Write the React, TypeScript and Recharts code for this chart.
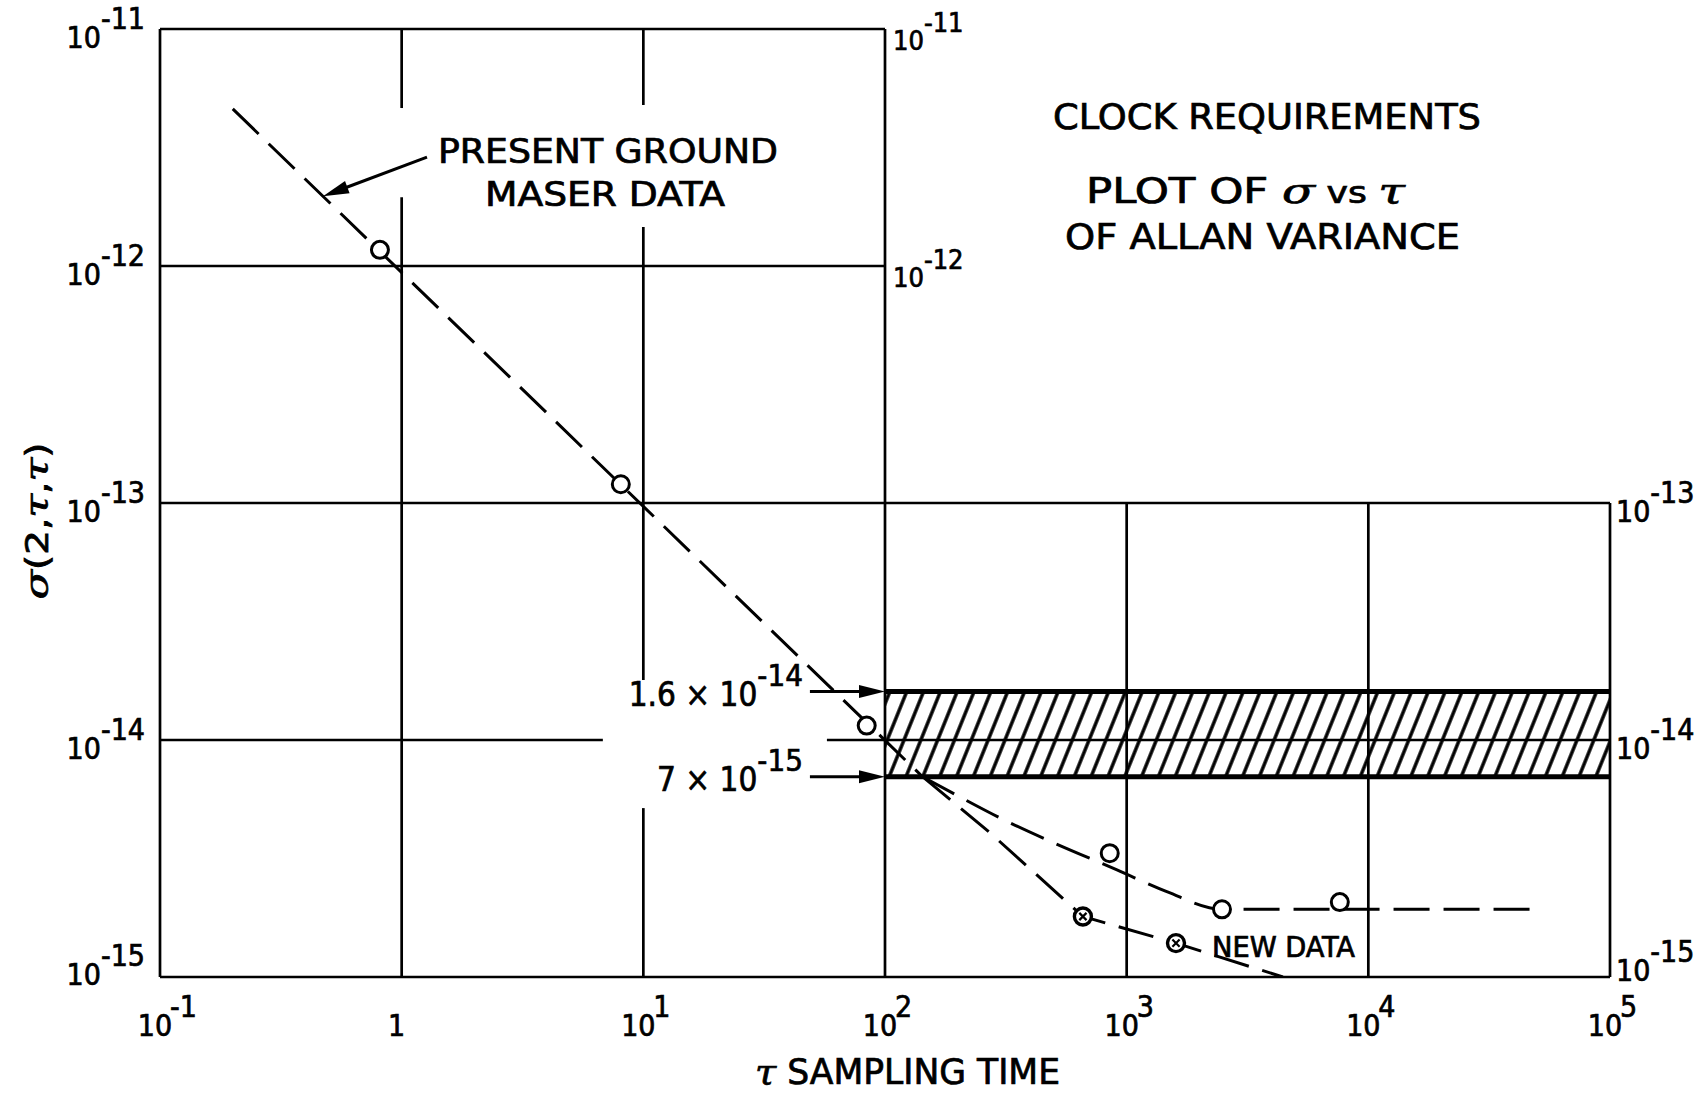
import React from "react";
import {
  ComposedChart,
  XAxis,
  YAxis,
  Line,
  Scatter,
  ReferenceLine,
  ReferenceArea,
  ReferenceDot,
} from "recharts";

const FONT = "'DejaVu Sans Condensed', 'Liberation Sans Narrow', 'Liberation Sans', sans-serif";
const GREEK = "'DejaVu Serif', serif";

// log-log axes: sampling time tau vs sigma(2, tau, tau)
const tauTicks = [0.1, 1, 10, 100, 1e3, 1e4, 1e5];
const sigmaTicks = [1e-15, 1e-14, 1e-13, 1e-12, 1e-11];
const sigmaTicksRight = [1e-15, 1e-14, 1e-13];
const sigmaTicksMid = [1e-12, 1e-11]; // labelled along the tau = 100 rule

// present ground maser trend
const maserTau = [0.2, 143];
const maserSigma = [4.6e-12, 7e-15];

// trend through the open circles
const clockTau = [143, 204, 299, 468, 912, 1466, 2480, 52700];
const clockSigma = [7e-15, 5.75e-15, 4.69e-15, 3.79e-15, 2.83e-15, 2.29e-15, 1.93e-15, 1.93e-15];

// trend through the new data
const newTau = [143, 272, 659, 1600, 4430];
const newSigma = [7e-15, 4.06e-15, 1.8e-15, 1.39e-15, 1e-15];

// measured points
const circleTau = [0.813, 8.07, 84, 851, 2480, 7620];
const circleSigma = [1.17e-12, 1.2e-13, 1.15e-14, 3.33e-15, 1.93e-15, 2.07e-15];
const crossTau = [659, 1600];
const crossSigma = [1.8e-15, 1.39e-15];

// requirement band
const bandTau = [100, 1e5];
const bandSigma = [7e-15, 1.6e-14];
const bandLabels = [
  { text: "7 × 10", exp: "-15" },
  { text: "1.6 × 10", exp: "-14" },
];
const bandArrowTau = 48.9;

// "present ground maser data" pointer: tail, tip
const pointerTau = [1.273, 0.4725];
const pointerSigma = [2.88e-12, 1.97e-12];

// grid rules: [sigma, tauFrom, tauTo] and [tau, sigmaFrom, sigmaTo]
const hRules: [number, number, number][] = [
  [1e-11, 0.1, 100],
  [1e-12, 0.1, 100],
  [1e-13, 0.1, 1e5],
  [1e-14, 0.1, 6.8],
  [1e-14, 57.5, 1e5],
  [1e-15, 0.1, 1e5],
];
const vRules: [number, number, number][] = [
  [0.1, 1e-15, 1e-11],
  [1, 1e-15, 1.95e-12],
  [1, 4.64e-12, 1e-11],
  [10, 1e-15, 5.16e-15],
  [10, 1.79e-14, 1.46e-12],
  [10, 4.78e-12, 1e-11],
  [100, 1e-15, 1e-11],
  [1e3, 1e-15, 1e-13],
  [1e4, 1e-15, 1e-13],
  [1e5, 1e-15, 1e-13],
];

const zip = (xs: number[], ys: number[]) => xs.map((tau, i) => ({ tau, sigma: ys[i] }));

const powerParts = (v: number) => {
  const e = Math.round(Math.log10(v));
  if (e === 0) return { base: "1", exp: "" };
  return { base: "10", exp: String(e) };
};

// heavier lettering
const ink = { fill: "#000", stroke: "#000", strokeWidth: 0.7 };

const BottomTick = (props: any) => {
  const { x, y, payload } = props;
  const { base, exp } = powerParts(payload.value);
  return (
    <g fontFamily={FONT} fontSize={30} {...ink}>
      <text x={x - 5} y={y + 59} textAnchor="middle">{base}</text>
      {exp && <text x={x + 10} y={y + 40}>{exp}</text>}
    </g>
  );
};

const LeftTick = (props: any) => {
  const { x, y, payload } = props;
  const { base, exp } = powerParts(payload.value);
  const by = payload.value === sigmaTicks[0] ? y + 8 : y + 19;
  return (
    <text x={x - 15} y={by} textAnchor="end" fontFamily={FONT} fontSize={30} {...ink}>
      <tspan>{base}</tspan>
      <tspan dy={-19}>{exp}</tspan>
    </text>
  );
};

const RightTick = (props: any) => {
  const { x, y, payload } = props;
  const { base, exp } = powerParts(payload.value);
  const by = payload.value === sigmaTicks[0] ? y + 4 : y + 19;
  return (
    <text x={x + 6} y={by} fontFamily={FONT} fontSize={30} {...ink}>
      <tspan>{base}</tspan>
      <tspan dy={-19}>{exp}</tspan>
    </text>
  );
};

const midLabel = (value: number) => (p: any) => {
  const { base, exp } = powerParts(value);
  return (
    <text x={p.cx + 8} y={p.cy + 21} fontFamily={FONT} fontSize={27} {...ink}>
      <tspan>{base}</tspan>
      <tspan dy={-18}>{exp}</tspan>
    </text>
  );
};

// arrow along a reference segment, optional power-of-ten label at its tail
const arrowShape = (label?: { text: string; exp: string }) => (p: any) => {
  const { x1, y1, x2, y2 } = p;
  const dx = x2 - x1;
  const dy = y2 - y1;
  const len = Math.hypot(dx, dy) || 1;
  const ux = dx / len;
  const uy = dy / len;
  const hl = 26;
  const hw = 6.5;
  const bx = x2 - ux * hl;
  const by = y2 - uy * hl;
  return (
    <g>
      <line x1={x1} y1={y1} x2={bx + ux * 2} y2={by + uy * 2} stroke="#000" strokeWidth={3} />
      <polygon
        points={`${x2},${y2} ${bx - uy * hw},${by + ux * hw} ${bx + uy * hw},${by - ux * hw}`}
        fill="#000"
      />
      {label && (
        <text x={x1 - 7} y={y1 + 14} textAnchor="end" fontFamily={FONT} fontSize={33} {...ink}>
          <tspan>{label.text}</tspan>
          <tspan dy={-20} fontSize={31}>{label.exp}</tspan>
        </text>
      )}
    </g>
  );
};

const OpenCircle = (p: any) => (
  <circle cx={p.cx} cy={p.cy} r={8.5} fill="#fff" stroke="#000" strokeWidth={3} />
);

const CrossCircle = (p: any) => {
  const { cx, cy } = p;
  const d = 3.6;
  return (
    <g>
      <circle cx={cx} cy={cy} r={8.5} fill="#fff" stroke="#000" strokeWidth={3.4} />
      <path
        d={`M${cx - d},${cy - d}L${cx + d},${cy + d}M${cx - d},${cy + d}L${cx + d},${cy - d}`}
        stroke="#000"
        strokeWidth={2.2}
      />
    </g>
  );
};

const dashed = {
  type: "linear" as const,
  stroke: "#000",
  strokeWidth: 3,
  strokeDasharray: "36 14",
  dot: false,
  activeDot: false,
  isAnimationActive: false,
};

export default function App() {
  const rule = { stroke: "#000", strokeWidth: 2.7, ifOverflow: "visible" as const };

  return (
    <div style={{ position: "absolute", left: 0, top: 0, width: 1708, height: 1095, background: "#fff" }}>
      <svg width={0} height={0} style={{ position: "absolute" }}>
        <defs>
          <pattern id="bandHatch" patternUnits="userSpaceOnUse" width={15.6} height={30} patternTransform="rotate(22)">
            <line x1={7.8} y1={-5} x2={7.8} y2={35} stroke="#000" strokeWidth={3.4} />
          </pattern>
        </defs>
      </svg>

      <ComposedChart width={1708} height={1095} margin={{ top: 29, right: 0, bottom: 0, left: 0 }}>
        <XAxis
          dataKey="tau"
          type="number"
          scale="log"
          domain={[0.1, 1e5]}
          ticks={tauTicks}
          interval={0}
          allowDataOverflow
          axisLine={false}
          tickLine={false}
          tickSize={0}
          tickMargin={0}
          height={118}
          tick={BottomTick}
        />
        <YAxis
          dataKey="sigma"
          type="number"
          scale="log"
          domain={[1e-15, 1e-11]}
          ticks={sigmaTicks}
          interval={0}
          allowDataOverflow
          axisLine={false}
          tickLine={false}
          tickSize={0}
          tickMargin={0}
          width={160}
          tick={LeftTick}
        />
        <YAxis
          yAxisId="right"
          orientation="right"
          type="number"
          scale="log"
          domain={[1e-15, 1e-11]}
          ticks={sigmaTicksRight}
          interval={0}
          allowDataOverflow
          axisLine={false}
          tickLine={false}
          tickSize={0}
          tickMargin={0}
          width={98}
          tick={RightTick}
        />

        <ReferenceArea
          x1={bandTau[0]}
          x2={bandTau[1]}
          y1={bandSigma[0]}
          y2={bandSigma[1]}
          fill="url(#bandHatch)"
          fillOpacity={1}
          stroke="none"
          ifOverflow="visible"
        />

        {hRules.map(([s, a, b], i) => (
          <ReferenceLine key={`h${i}`} segment={[{ x: a, y: s }, { x: b, y: s }]} {...rule} />
        ))}
        {vRules.map(([t, a, b], i) => (
          <ReferenceLine key={`v${i}`} segment={[{ x: t, y: a }, { x: t, y: b }]} {...rule} />
        ))}
        {bandSigma.map((s, i) => (
          <ReferenceLine
            key={`b${i}`}
            segment={[{ x: bandTau[0], y: s }, { x: bandTau[1], y: s }]}
            stroke="#000"
            strokeWidth={5}
            ifOverflow="visible"
          />
        ))}

        {sigmaTicksMid.map((s) => (
          <ReferenceDot key={`m${s}`} x={100} y={s} r={0} ifOverflow="visible" shape={midLabel(s)} />
        ))}

        {bandSigma.map((s, i) => (
          <ReferenceLine
            key={`a${i}`}
            segment={[{ x: bandArrowTau, y: s }, { x: bandTau[0], y: s }]}
            ifOverflow="visible"
            shape={arrowShape(bandLabels[i])}
          />
        ))}
        <ReferenceLine
          segment={[
            { x: pointerTau[0], y: pointerSigma[0] },
            { x: pointerTau[1], y: pointerSigma[1] },
          ]}
          ifOverflow="visible"
          shape={arrowShape()}
        />

        <Line data={zip(maserTau, maserSigma)} dataKey="sigma" {...dashed} />
        <Line data={zip(clockTau, clockSigma)} dataKey="sigma" {...dashed} type="monotone" />
        <Line data={zip(newTau, newSigma)} dataKey="sigma" {...dashed} />

        <Scatter data={zip(circleTau, circleSigma)} dataKey="sigma" shape={OpenCircle} isAnimationActive={false} />
        <Scatter data={zip(crossTau, crossSigma)} dataKey="sigma" shape={CrossCircle} isAnimationActive={false} />
      </ComposedChart>

      <svg
        width={1708}
        height={1095}
        style={{ position: "absolute", left: 0, top: 0, pointerEvents: "none" }}
      >
        <g fontFamily={FONT} {...ink}>
          <text x={1053} y={129} fontSize={36} textLength={428} lengthAdjust="spacingAndGlyphs">
            CLOCK REQUIREMENTS
          </text>
          <text x={1086} y={203} fontSize={36} textLength={319} lengthAdjust="spacingAndGlyphs">
            PLOT OF <tspan fontStyle="italic" fontFamily={GREEK}>σ</tspan>
            <tspan fontSize={30}> vs </tspan>
            <tspan fontStyle="italic" fontFamily={GREEK}>τ</tspan>
          </text>
          <text x={1065} y={249} fontSize={36} textLength={395} lengthAdjust="spacingAndGlyphs">
            OF ALLAN VARIANCE
          </text>
          <text x={438} y={163} fontSize={34} textLength={340} lengthAdjust="spacingAndGlyphs">
            PRESENT GROUND
          </text>
          <text x={485} y={206} fontSize={34} textLength={240} lengthAdjust="spacingAndGlyphs">
            MASER DATA
          </text>
          <text x={1212} y={957} fontSize={28} textLength={143} lengthAdjust="spacingAndGlyphs">
            NEW DATA
          </text>
          <text x={755} y={1084} fontSize={36} textLength={305} lengthAdjust="spacingAndGlyphs">
            <tspan fontStyle="italic" fontFamily={GREEK}>τ</tspan> SAMPLING TIME
          </text>
          <text
            transform="translate(48 521) rotate(-90)"
            textAnchor="middle"
            fontSize={32}
            textLength={157}
            lengthAdjust="spacingAndGlyphs"
          >
            <tspan fontStyle="italic" fontFamily={GREEK}>σ</tspan>(2,
            <tspan fontStyle="italic" fontFamily={GREEK}>τ</tspan>,
            <tspan fontStyle="italic" fontFamily={GREEK}>τ</tspan>)
          </text>
        </g>
      </svg>
    </div>
  );
}
